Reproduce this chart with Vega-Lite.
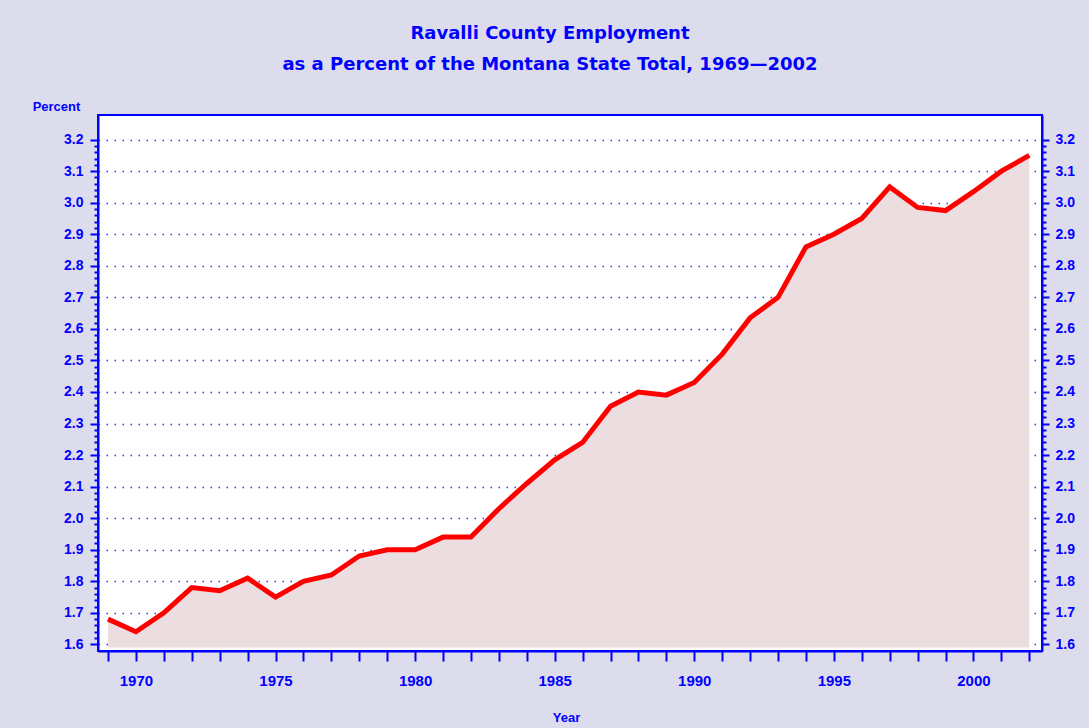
{
  "$schema": "https://vega.github.io/schema/vega-lite/v6.json",
  "autosize": {"type": "none"},
  "width": 944,
  "height": 536,
  "padding": {"left": 98, "top": 115, "right": 47, "bottom": 77},
  "background": "#dddcec",
  "title": {
    "text": ["Ravalli County Employment", "as a Percent of the Montana State Total, 1969—2002"],
    "anchor": "middle",
    "frame": "group",
    "dx": -20,
    "offset": 26,
    "font": "DejaVu Sans",
    "fontWeight": "bold",
    "fontSize": 18,
    "lineHeight": 31,
    "color": "#0000ff"
  },
  "config": {
    "view": {"stroke": "#0000ff", "strokeWidth": 2, "fill": "white"},
    "axis": {
      "labelFont": "Liberation Sans",
      "labelFontWeight": "bold",
      "labelFontSize": 14,
      "labelColor": "#0000ff",
      "titleFont": "Liberation Sans",
      "titleFontWeight": "bold",
      "titleFontSize": 13,
      "titleColor": "#0000ff",
      "domainColor": "#0000ff",
      "domainWidth": 2,
      "tickColor": "#0000ff",
      "tickWidth": 2,
      "labelOverlap": false,
      "labelFlush": false,
      "labelBound": false
    }
  },
  "data": {
    "values": [
      {"year": 1969, "pct": 1.68},
      {"year": 1970, "pct": 1.64},
      {"year": 1971, "pct": 1.70},
      {"year": 1972, "pct": 1.78},
      {"year": 1973, "pct": 1.77},
      {"year": 1974, "pct": 1.81},
      {"year": 1975, "pct": 1.75},
      {"year": 1976, "pct": 1.80},
      {"year": 1977, "pct": 1.82},
      {"year": 1978, "pct": 1.88},
      {"year": 1979, "pct": 1.90},
      {"year": 1980, "pct": 1.90},
      {"year": 1981, "pct": 1.94},
      {"year": 1982, "pct": 1.94},
      {"year": 1983, "pct": 2.03},
      {"year": 1984, "pct": 2.11},
      {"year": 1985, "pct": 2.185},
      {"year": 1986, "pct": 2.24},
      {"year": 1987, "pct": 2.355},
      {"year": 1988, "pct": 2.40},
      {"year": 1989, "pct": 2.39},
      {"year": 1990, "pct": 2.43},
      {"year": 1991, "pct": 2.52},
      {"year": 1992, "pct": 2.635},
      {"year": 1993, "pct": 2.70},
      {"year": 1994, "pct": 2.86},
      {"year": 1995, "pct": 2.90},
      {"year": 1996, "pct": 2.95},
      {"year": 1997, "pct": 3.05},
      {"year": 1998, "pct": 2.985},
      {"year": 1999, "pct": 2.975},
      {"year": 2000, "pct": 3.035},
      {"year": 2001, "pct": 3.10},
      {"year": 2002, "pct": 3.15}
    ]
  },
  "encoding": {
    "x": {
      "field": "year",
      "type": "quantitative",
      "scale": {"domain": [1968.642, 2002.455], "nice": false, "zero": false},
      "axis": {
        "title": "Year",
        "values": [1969,1970,1971,1972,1973,1974,1975,1976,1977,1978,1979,1980,1981,1982,1983,1984,1985,1986,1987,1988,1989,1990,1991,1992,1993,1994,1995,1996,1997,1998,1999,2000,2001,2002],
        "labelExpr": "datum.value % 5 == 0 ? '' + datum.value : ''",
        "tickSize": 10,
        "labelPadding": 12,
        "labelFontSize": 15,
        "grid": false,
        "titleX": 468,
        "titleY": 66,
        "titleAlign": "center",
        "titleBaseline": "middle"
      }
    }
  },
  "layer": [
    {
      "mark": {"type": "area", "color": "#ecdde0"},
      "encoding": {
        "y": {
          "field": "pct",
          "type": "quantitative",
          "scale": {"domain": [1.579, 3.278], "nice": false, "zero": false},
          "axis": {
            "orient": "left",
            "title": "Percent",
            "titleAngle": 0,
            "titleX": -42,
            "titleY": -9,
            "titleAlign": "center",
            "titleBaseline": "middle",
            "values": [1.6,1.62,1.64,1.66,1.68,1.7,1.72,1.74,1.76,1.78,1.8,1.82,1.84,1.86,1.88,1.9,1.92,1.94,1.96,1.98,2.0,2.02,2.04,2.06,2.08,2.1,2.12,2.14,2.16,2.18,2.2,2.22,2.24,2.26,2.28,2.3,2.32,2.34,2.36,2.38,2.4,2.42,2.44,2.46,2.48,2.5,2.52,2.54,2.56,2.58,2.6,2.62,2.64,2.66,2.68,2.7,2.72,2.74,2.76,2.78,2.8,2.82,2.84,2.86,2.88,2.9,2.92,2.94,2.96,2.98,3.0,3.02,3.04,3.06,3.08,3.1,3.12,3.14,3.16,3.18,3.2],
            "labelExpr": "abs(datum.value*10 - round(datum.value*10)) < 0.01 ? format(datum.value, '.1f') : ''",
            "tickSize": {"condition": {"test": "abs(datum.value*10 - round(datum.value*10)) < 0.01", "value": 8}, "value": 4},
            "labelPadding": 7,
            "grid": true,
            "gridColor": "#2020ff",
            "gridWidth": 1.5,
            "gridDash": [1.5, 6.5],
            "gridOpacity": {"condition": {"test": "abs(datum.value*10 - round(datum.value*10)) < 0.01", "value": 0.9}, "value": 0}
          }
        },
        "y2": {"datum": 1.59}
      }
    },
    {
      "mark": {"type": "line", "color": "#ff0000", "strokeWidth": 5},
      "encoding": {
        "y": {
          "field": "pct",
          "type": "quantitative",
          "scale": {"domain": [1.579, 3.278], "nice": false, "zero": false},
          "axis": {
            "orient": "right",
            "title": null,
            "values": [1.6,1.62,1.64,1.66,1.68,1.7,1.72,1.74,1.76,1.78,1.8,1.82,1.84,1.86,1.88,1.9,1.92,1.94,1.96,1.98,2.0,2.02,2.04,2.06,2.08,2.1,2.12,2.14,2.16,2.18,2.2,2.22,2.24,2.26,2.28,2.3,2.32,2.34,2.36,2.38,2.4,2.42,2.44,2.46,2.48,2.5,2.52,2.54,2.56,2.58,2.6,2.62,2.64,2.66,2.68,2.7,2.72,2.74,2.76,2.78,2.8,2.82,2.84,2.86,2.88,2.9,2.92,2.94,2.96,2.98,3.0,3.02,3.04,3.06,3.08,3.1,3.12,3.14,3.16,3.18,3.2],
            "labelExpr": "abs(datum.value*10 - round(datum.value*10)) < 0.01 ? format(datum.value, '.1f') : ''",
            "tickSize": {"condition": {"test": "abs(datum.value*10 - round(datum.value*10)) < 0.01", "value": 7}, "value": 4},
            "labelPadding": 6,
            "grid": false
          }
        }
      }
    }
  ],
  "resolve": {"axis": {"y": "independent"}}
}
